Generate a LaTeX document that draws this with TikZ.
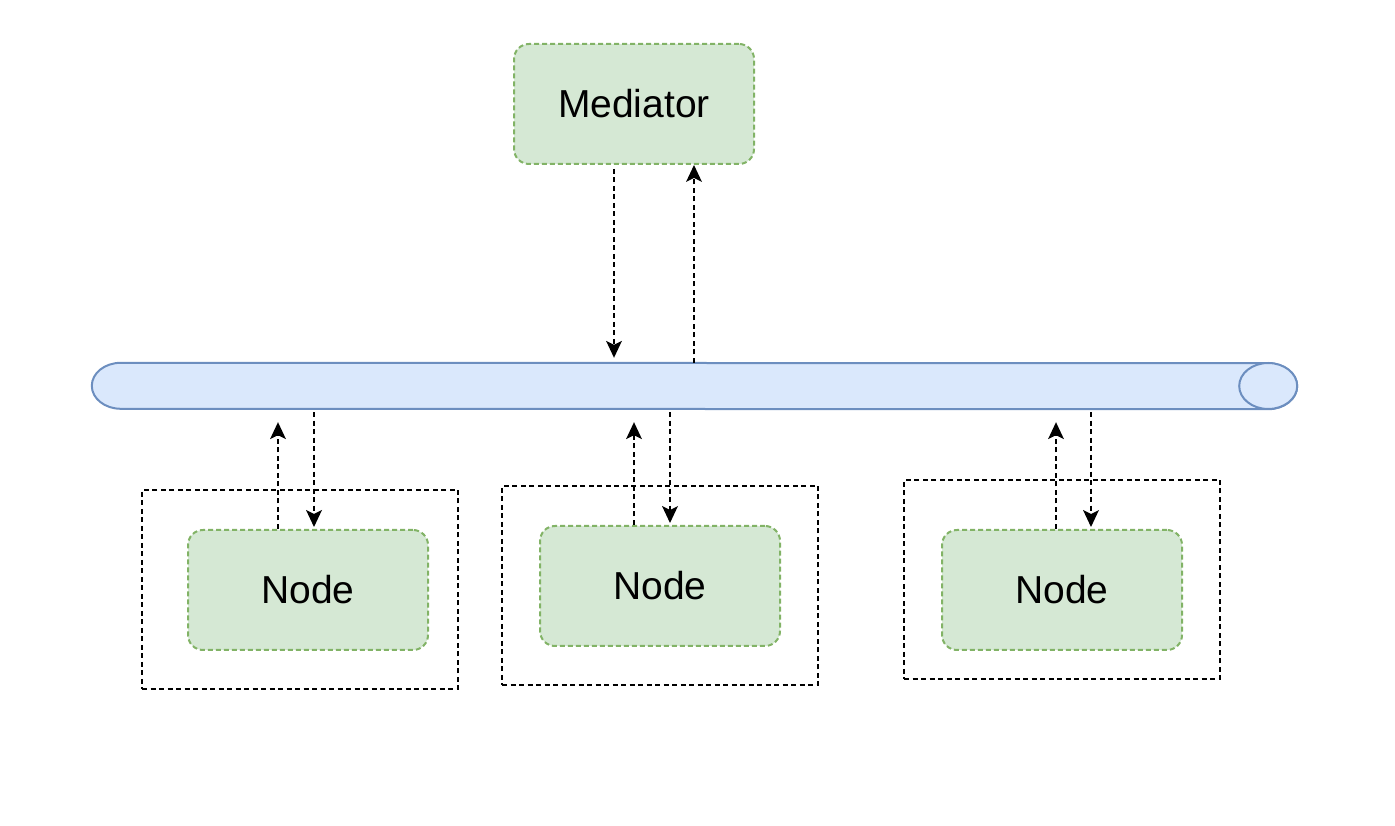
\documentclass[tikz,border=0pt]{standalone}
\usepackage{fontspec}
\setmainfont{Liberation Sans}
\usetikzlibrary{shapes.geometric, arrows.meta, positioning}

\definecolor{nodefill}{HTML}{D5E8D4}
\definecolor{nodeline}{HTML}{82B366}
\definecolor{busfill}{HTML}{DAE8FC}
\definecolor{busline}{HTML}{6C8EBF}

\begin{document}
\begin{tikzpicture}[
    x=1pt, y=1pt,
    box/.style={rectangle, draw=nodeline, fill=nodefill, rounded corners=15pt, line width=2pt, dash pattern=on 5pt off 3pt, minimum width=240pt, minimum height=120pt, font=\fontsize{39}{47}\selectfont},
    frame/.style={rectangle, draw, line width=1.8pt, dash pattern=on 5pt off 3.5pt, minimum width=316pt, minimum height=199pt},
    pipe/.style={draw=busline, fill=busfill, line width=2pt},
    link/.style={-{Stealth[length=17pt, width=16pt, inset=4pt, line width=0pt]}, line width=1.8pt, dash pattern=on 5pt off 3.5pt}
]
\useasboundingbox (0,0) rectangle (1395,825);

% Mediator
\node[box] (med) at (634,721) {Mediator};

% Bus (horizontal pipe)
\node[rectangle, minimum width=1205pt, minimum height=46pt, inner sep=0pt] (bus) at (694.5,439) {};
\draw[pipe] ([xshift=29pt]bus.north west) arc[start angle=90, end angle=270, x radius=29pt, y radius=23pt]
    -- ([xshift=-29pt]bus.south east) arc[start angle=-90, end angle=90, x radius=29pt, y radius=23pt] -- cycle;
\draw[pipe] ([xshift=-29pt]bus.east) ellipse [x radius=29pt, y radius=23pt];

% Nodes with their frames
\node[frame] (frame1) at (300,235.5) {};
\node[frame] (frame2) at (660,239.5) {};
\node[frame] (frame3) at (1062,245.5) {};
\node[box] (node1) at (308,235) {Node};
\node[box] (node2) at (660,239) {Node};
\node[box] (node3) at (1062,235) {Node};

% Arrows - Mediator and bus
\draw[link] ([xshift=-20pt, yshift=-4pt]med.south) -- ([xshift=-20pt, yshift=5pt]med.south |- bus.north);
\draw[link] ([xshift=60pt]med.south |- bus.north) -- ([xshift=60pt]med.south);

% Arrows - bus and nodes
\draw[link] ([xshift=-30pt]node1.north) -- ([xshift=-30pt, yshift=-13pt]node1.north |- bus.south);
\draw[link] ([xshift=6pt, yshift=-3pt]node1.north |- bus.south) -- ([xshift=6pt, yshift=2pt]node1.north);
\draw[link] ([xshift=-26pt]node2.north) -- ([xshift=-26pt, yshift=-13pt]node2.north |- bus.south);
\draw[link] ([xshift=10pt, yshift=-3pt]node2.north |- bus.south) -- ([xshift=10pt, yshift=2pt]node2.north);
\draw[link] ([xshift=-6pt]node3.north) -- ([xshift=-6pt, yshift=-13pt]node3.north |- bus.south);
\draw[link] ([xshift=29pt, yshift=-3pt]node3.north |- bus.south) -- ([xshift=29pt, yshift=2pt]node3.north);

\end{tikzpicture}
\end{document}
